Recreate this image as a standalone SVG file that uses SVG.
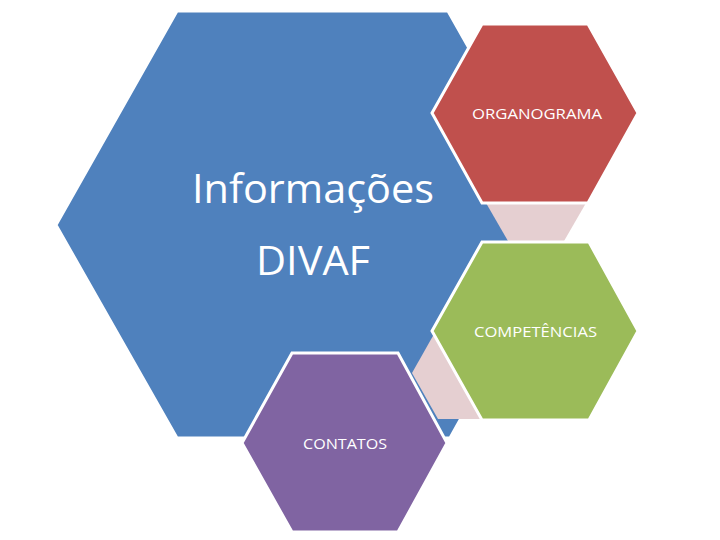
<svg xmlns="http://www.w3.org/2000/svg" width="720" height="540" viewBox="0 0 720 540">
<style>
.hex{stroke:#FFFFFF;stroke-width:3;stroke-linejoin:miter}
.conn{fill:#E5CFD1;stroke:none}
.big{font-family:"Open Sans","Liberation Sans",sans-serif;font-size:40px;fill:#FFFFFF;text-anchor:middle}
.lbl{font-family:"Open Sans","Liberation Sans",sans-serif;font-size:15px;fill:#FFFFFF;text-anchor:middle}
</style>
<rect width="720" height="540" fill="#FFFFFF"/>
<g id="node-main">
<polygon class="hex" fill="#4F81BD" points="56,225 177,11 448,11 569,225 450,438 177,438"/>
<text class="big" x="313" y="203" textLength="242" lengthAdjust="spacingAndGlyphs">Informações</text>
<text class="big" x="313" y="275" textLength="114" lengthAdjust="spacingAndGlyphs">DIVAF</text>
</g>
<g id="connectors">
<polygon class="conn" points="486,203 586,203 560,248 512,248"/>
<polygon class="conn" points="412,373 438,327 480,327 506,373 480,419 438,419"/>
</g>
<g id="node-organograma">
<polygon class="hex" fill="#C0504D" points="432,113 482,24 588,24 638,113 588,203 482,203"/>
<text class="lbl" x="537" y="119" textLength="130" lengthAdjust="spacingAndGlyphs">ORGANOGRAMA</text>
</g>
<g id="node-competencias">
<polygon class="hex" fill="#9BBB59" points="432,331 482,242 589,242 638,331 589,420 482,420"/>
<text class="lbl" x="535.5" y="337" textLength="123" lengthAdjust="spacingAndGlyphs">COMPETÊNCIAS</text>
</g>
<g id="node-contatos">
<polygon class="hex" fill="#8064A2" points="242,443 292,353 398,353 447,443 398,532 292,532"/>
<text class="lbl" x="345" y="449" textLength="84" lengthAdjust="spacingAndGlyphs">CONTATOS</text>
</g>
</svg>
